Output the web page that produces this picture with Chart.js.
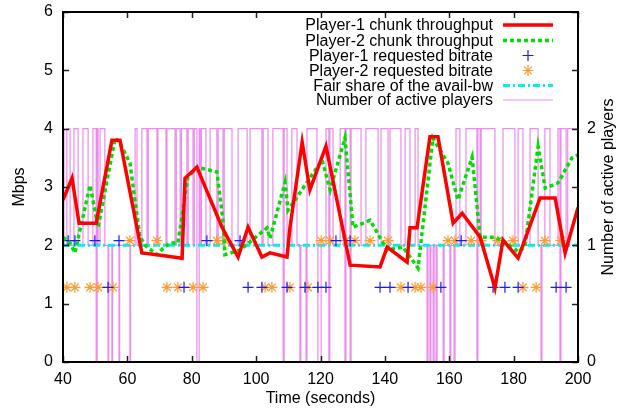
<!DOCTYPE html>
<html>
<head>
<meta charset="utf-8">
<script src="https://cdn.jsdelivr.net/npm/chart.js@4.4.1/dist/chart.umd.min.js"></script>
<style>
  html, body { margin: 0; padding: 0; background: #ffffff; }
  #wrap { width: 620px; height: 408px; }
</style>
</head>
<body>
<div id="wrap"><canvas id="c" width="620" height="408"></canvas></div>
<script>
// ---------------- data ----------------
const xTickValues = [40, 60, 80, 100, 120, 140, 160, 180, 200];
const yTickValues = [0, 1, 2, 3, 4, 5, 6];
const y2TickValues = [0, 1, 2];

const xTitle = "Time (seconds)";
const yTitle = "Mbps";
const y2Title = "Number of active players";

const seriesNames = [
  "Player-1 chunk throughput",
  "Player-2 chunk throughput",
  "Player-1 requested bitrate",
  "Player-2 requested bitrate",
  "Fair share of the avail-bw",
  "Number of active players"
];

// Player-1 chunk throughput (Mbps)
const p1Time = [40.0, 42.8, 45.0, 50.3, 55.2, 57.7, 64.5, 69.2, 77.0, 77.9, 81.6, 89.4, 94.4, 97.5, 101.8, 104.3, 109.6, 110.5, 114.3, 116.7, 121.7, 129.2, 138.5, 140.7, 146.9, 147.8, 150.0, 154.0, 156.5, 161.2, 164.0, 169.6, 174.2, 176.7, 181.4, 188.2, 192.9, 196.0, 200.0];
const p1Tput = [2.78, 3.15, 2.38, 2.38, 3.80, 3.80, 1.87, 1.84, 1.78, 3.15, 3.34, 2.31, 1.80, 2.31, 1.80, 1.87, 1.80, 2.30, 3.77, 2.95, 3.70, 1.66, 1.63, 1.97, 1.71, 2.30, 2.30, 3.86, 3.86, 2.38, 2.55, 2.14, 1.27, 2.09, 1.78, 2.81, 2.81, 1.87, 2.65];

// Player-2 chunk throughput (Mbps)
const p2Time = [40.0, 42.2, 43.7, 48.4, 50.9, 56.2, 57.7, 60.8, 63.9, 66.1, 69.2, 71.1, 73.2, 75.7, 78.8, 81.6, 87.8, 89.7, 90.3, 95.0, 103.4, 104.3, 109.0, 109.9, 115.8, 120.5, 123.0, 127.6, 130.1, 135.4, 140.7, 145.6, 150.3, 154.9, 159.6, 162.7, 167.1, 169.6, 174.2, 177.9, 181.4, 183.5, 187.6, 189.8, 193.8, 198.1, 200.0];
const p2Tput = [2.14, 2.04, 1.87, 3.03, 2.31, 3.84, 3.75, 3.41, 2.14, 1.97, 1.84, 1.95, 2.04, 2.04, 3.17, 3.34, 3.26, 2.43, 1.84, 1.92, 2.30, 2.12, 3.08, 2.60, 3.08, 3.46, 2.95, 3.84, 2.31, 2.43, 1.92, 1.97, 1.61, 3.84, 3.41, 2.78, 3.51, 2.14, 2.14, 2.04, 1.89, 1.97, 3.69, 2.98, 3.07, 3.50, 3.55];

// Requested bitrates (Mbps)
const p1ReqTime = [41.6, 43.7, 49.9, 57.4, 84.7, 95.0, 124.8, 129.2, 163.7, 54.0, 77.6, 97.5, 101.8, 109.6, 115.2, 119.2, 121.7, 138.5, 141.6, 147.2, 157.4, 173.6, 177.3, 181.4, 193.2, 196.3];
const p1ReqRate = [2.08, 2.08, 2.08, 2.08, 2.08, 2.08, 2.08, 2.08, 2.08, 1.28, 1.28, 1.28, 1.28, 1.28, 1.28, 1.28, 1.28, 1.28, 1.28, 1.28, 1.28, 1.28, 1.28, 1.28, 1.28, 1.28];

const p2ReqTime = [60.8, 69.2, 87.8, 90.3, 120.2, 123.0, 127.9, 130.7, 135.4, 141.0, 159.6, 161.8, 166.8, 169.9, 175.1, 179.8, 189.7, 194.7, 41.2, 43.7, 48.4, 50.9, 55.5, 72.3, 75.7, 80.4, 83.5, 102.8, 104.9, 110.5, 116.1, 145.0, 149.4, 151.2, 155.0, 182.9, 187.0];
const p2ReqRate = [2.08, 2.08, 2.08, 2.08, 2.08, 2.08, 2.08, 2.08, 2.08, 2.08, 2.08, 2.08, 2.08, 2.08, 2.08, 2.08, 2.08, 2.08, 1.28, 1.28, 1.28, 1.28, 1.28, 1.28, 1.28, 1.28, 1.28, 1.28, 1.28, 1.28, 1.28, 1.28, 1.28, 1.28, 1.28, 1.28, 1.28];

// Fair share of the available bandwidth (Mbps)
const fairTime = [40, 200];
const fairRate = [2.0, 2.0];

// Number of active players (right axis), value holds until next time
const activeTime = [40, 40.3, 41.2, 42.2, 43.4, 44.7, 46.2, 47.8, 49.3, 50.3, 50.6, 50.9, 51.5, 53.0, 54.0, 54.2, 55.2, 55.4, 57.4, 57.6, 60.8, 61.0, 62.4, 63.0, 64.5, 66.1, 66.5, 69.2, 69.5, 72.0, 72.3, 74.8, 75.2, 76.4, 76.8, 78.5, 78.9, 80.4, 80.8, 81.6, 82.3, 82.6, 83.0, 84.4, 85.7, 87.8, 88.2, 89.7, 90.1, 92.5, 94.4, 97.2, 98.1, 101.8, 102.2, 103.7, 105.2, 108.4, 108.7, 109.6, 111.1, 112.7, 113.6, 113.9, 115.5, 115.8, 118.9, 119.2, 120.2, 121.7, 122.6, 122.9, 123.9, 126.1, 127.6, 127.9, 129.2, 129.5, 132.6, 134.1, 137.9, 138.8, 141.0, 141.6, 145.0, 146.3, 147.8, 149.4, 150.3, 151.2, 153.1, 153.4, 154.0, 154.3, 155.0, 155.3, 155.9, 156.2, 158.1, 158.4, 160.2, 160.5, 161.5, 161.8, 162.1, 163.3, 165.2, 168.6, 168.9, 169.6, 169.9, 174.2, 176.7, 180.4, 181.4, 182.9, 185.1, 187.6, 188.5, 188.8, 189.7, 191.3, 193.8, 194.4, 194.7, 196.3, 196.8, 200];
const activeCount = [2, 1, 2, 1, 2, 1, 2, 1, 2, 0, 2, 1, 2, 1, 0, 1, 0, 1, 0, 1, 0, 1, 2, 1, 2, 1, 2, 1, 2, 1, 2, 1, 2, 1, 2, 1, 2, 1, 2, 0, 2, 1, 2, 1, 2, 1, 2, 1, 2, 1, 2, 1, 2, 1, 2, 1, 2, 0, 2, 1, 2, 1, 0, 1, 0, 2, 1, 0, 1, 2, 0, 2, 1, 2, 0, 2, 0, 2, 1, 2, 1, 2, 1, 2, 1, 2, 1, 2, 1, 1, 0, 1, 0, 1, 0, 1, 0, 1, 0, 1, 0, 1, 0, 1, 2, 1, 2, 0, 2, 1, 2, 1, 2, 1, 2, 1, 2, 1, 0, 1, 2, 1, 2, 0, 2, 1, 2, 2];

// ---------------- build ----------------
const pts = (xs, ys) => xs.map((x, i) => ({ x: x, y: ys[i] }));
const FONT = "'Liberation Sans', Arial, Helvetica, sans-serif";
const FS = 16;

const colRed = '#ff0000';
const colGreen = '#00e000';
const colBlue = '#1a1aff';
const colOrange = '#ff9a2e';
const colCyan = '#00f0f0';
const colViolet = 'rgba(232,120,232,0.85)';

const datasets = [
  { label: seriesNames[0], data: pts(p1Time, p1Tput), showLine: true, borderColor: colRed, borderWidth: 3.5, pointRadius: 0, yAxisID: 'y', order: 1 },
  { label: seriesNames[1], data: pts(p2Time, p2Tput), showLine: true, borderColor: colGreen, borderWidth: 3.5, borderDash: [4, 3], pointRadius: 0, yAxisID: 'y', order: 2 },
  { label: seriesNames[2], data: pts(p1ReqTime, p1ReqRate), showLine: false, pointStyle: 'cross', pointRadius: 5.5, borderColor: colBlue, backgroundColor: colBlue, pointBorderWidth: 1.2, yAxisID: 'y', order: 3 },
  { label: seriesNames[3], data: pts(p2ReqTime, p2ReqRate), showLine: false, pointStyle: 'star', pointRadius: 5.5, borderColor: colOrange, backgroundColor: colOrange, pointBorderWidth: 1.2, yAxisID: 'y', order: 4 },
  { label: seriesNames[4], data: pts(fairTime, fairRate), showLine: true, borderColor: colCyan, borderWidth: 3, borderDash: [7, 3, 2, 3], pointRadius: 0, yAxisID: 'y', order: 5 },
  { label: seriesNames[5], data: pts(activeTime, activeCount), showLine: true, stepped: true, borderColor: colViolet, borderWidth: 1.2, pointRadius: 0, yAxisID: 'y2', order: 10 }
];

// Frame, inward ticks, right-axis label and key drawn through the chart's own scales
const framePlugin = {
  id: 'frame',
  afterDatasetsDraw(chart) {
    const ctx = chart.ctx;
    const a = chart.chartArea;
    const sx = chart.scales.x, sy = chart.scales.y, sy2 = chart.scales.y2;
    ctx.save();
    ctx.strokeStyle = '#222';
    ctx.lineWidth = 1.5;
    const T = 6;
    ctx.beginPath();
    xTickValues.forEach(v => {
      const p = Math.round(sx.getPixelForValue(v)) + 0.5;
      ctx.moveTo(p, a.bottom); ctx.lineTo(p, a.bottom - T);
      ctx.moveTo(p, a.top); ctx.lineTo(p, a.top + T);
    });
    yTickValues.forEach(v => {
      const p = Math.round(sy.getPixelForValue(v)) + 0.5;
      ctx.moveTo(a.left, p); ctx.lineTo(a.left + T, p);
      ctx.moveTo(a.right, p); ctx.lineTo(a.right - T, p);
    });
    y2TickValues.forEach(v => {
      const p = Math.round(sy2.getPixelForValue(v)) + 0.5;
      ctx.moveTo(a.right, p); ctx.lineTo(a.right - T, p);
    });
    ctx.stroke();
    ctx.strokeStyle = '#000';
    ctx.lineWidth = 2;
    ctx.strokeRect(a.left, a.top, a.right - a.left, a.bottom - a.top);

    // right axis title, reading bottom to top
    ctx.save();
    ctx.font = FS + 'px ' + FONT;
    ctx.fillStyle = '#000';
    ctx.textAlign = 'center';
    ctx.textBaseline = 'middle';
    ctx.translate(609, (a.top + a.bottom) / 2);
    ctx.rotate(-Math.PI / 2);
    ctx.fillText(y2Title, 0, 0);
    ctx.restore();

    // key
    ctx.font = FS + 'px ' + FONT;
    ctx.fillStyle = '#000';
    ctx.textAlign = 'right';
    ctx.textBaseline = 'middle';
    const textRight = 493, sL = 503, sR = 553, sM = 528;
    const rowY = [25, 40.5, 55.5, 70.5, 85.5, 100];
    chart.data.datasets.forEach((ds, i) => {
      const y = rowY[i];
      ctx.fillStyle = '#000';
      ctx.fillText(ds.label, textRight, y + 1);
      ctx.save();
      if (ds.showLine) {
        ctx.strokeStyle = ds.borderColor;
        ctx.lineWidth = ds.borderWidth;
        ctx.setLineDash(ds.borderDash || []);
        ctx.beginPath();
        ctx.moveTo(sL, y); ctx.lineTo(sR, y);
        ctx.stroke();
      } else {
        ctx.strokeStyle = ds.borderColor;
        ctx.fillStyle = ds.backgroundColor;
        ctx.lineWidth = ds.pointBorderWidth;
        Chart.helpers.drawPoint(ctx, { pointStyle: ds.pointStyle, radius: ds.pointRadius, borderWidth: ds.pointBorderWidth, rotation: 0 }, sM, y);
      }
      ctx.restore();
    });
    ctx.restore();
  }
};

const tickFont = { family: FONT, size: FS };
const noPad = s => { s.paddingTop = 0; s.paddingBottom = 0; s.paddingLeft = 0; s.paddingRight = 0; };

new Chart(document.getElementById('c'), {
  type: 'scatter',
  data: { datasets: datasets },
  options: {
    responsive: false,
    animation: false,
    devicePixelRatio: 1,
    layout: { padding: { top: 12, left: 0, right: 0, bottom: 0 } },
    plugins: { legend: { display: false }, tooltip: { enabled: false } },
    scales: {
      x: {
        type: 'linear', min: 40, max: 200,
        afterBuildTicks: s => { s.ticks = xTickValues.map(v => ({ value: v })); },
        ticks: { font: tickFont, color: '#000', padding: 8, maxRotation: 0 },
        grid: { display: false, drawTicks: false },
        border: { display: false },
        title: { display: true, text: xTitle, font: tickFont, color: '#000', padding: { top: 2, bottom: 0 } },
        afterFit: s => { s.height = 46; noPad(s); }
      },
      y: {
        type: 'linear', position: 'left', min: 0, max: 6,
        afterBuildTicks: s => { s.ticks = yTickValues.map(v => ({ value: v })); },
        ticks: { font: tickFont, color: '#000', padding: 10 },
        grid: { display: false, drawTicks: false },
        border: { display: false },
        title: { display: true, text: yTitle, font: tickFont, color: '#000', padding: { top: 10, bottom: 0 } },
        afterFit: s => { s.width = 63; noPad(s); }
      },
      y2: {
        type: 'linear', position: 'right', min: 0, max: 3,
        afterBuildTicks: s => { s.ticks = y2TickValues.map(v => ({ value: v })); },
        ticks: { font: tickFont, color: '#000', padding: 9 },
        grid: { display: false, drawTicks: false },
        border: { display: false },
        title: { display: false },
        afterFit: s => { s.width = 42; noPad(s); }
      }
    }
  },
  plugins: [framePlugin]
});
</script>
</body>
</html>
